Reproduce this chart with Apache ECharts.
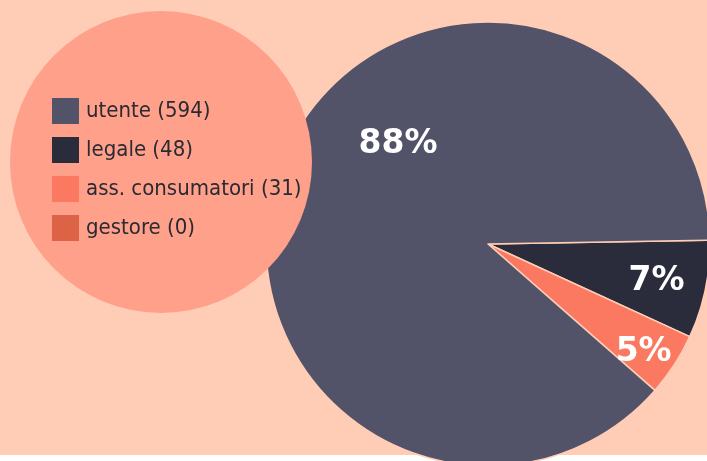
<!DOCTYPE html>
<html>
<head>
<meta charset="utf-8">
<script src="https://cdn.jsdelivr.net/npm/echarts@6/dist/echarts.min.js"></script>
<style>
html,body{margin:0;padding:0;background:#ffffff;}
#chart{width:707px;height:461px;}
</style>
</head>
<body>
<div id="chart"></div>
<script>
// Data
var categories = ['utente', 'legale', 'ass. consumatori', 'gestore'];
var values = [594, 48, 31, 0];
var colors = ['#525369', '#2b2c3b', '#fa7960', '#dc6346'];

var chart = echarts.init(document.getElementById('chart'), null, {renderer: 'canvas'});

// Pie drawn clockwise: gestore(0), legale, ass. consumatori, utente
var drawOrder = [3, 1, 2, 0];
var labelOffsets = {0: [17, -60], 1: [57, 14], 2: [60, 46], 3: [0, 0]};
var pieData = drawOrder.map(function (i) {
  return {
    name: categories[i],
    value: values[i],
    itemStyle: {color: colors[i]},
    label: {offset: labelOffsets[i], show: values[i] > 0}
  };
});

var option = {
  backgroundColor: '#ffffff',
  animation: false,
  graphic: [
    {type: 'rect', z: -10, silent: true, shape: {x: 0, y: 0, width: 707, height: 455}, style: {fill: '#ffcdb6'}},
    {type: 'circle', z: 5, silent: true, shape: {cx: 161, cy: 162, r: 151}, style: {fill: '#ffa08b'}}
  ],
  legend: {
    orient: 'vertical',
    left: 52,
    top: 98,
    z: 10,
    padding: 0,
    icon: 'rect',
    itemWidth: 27,
    itemHeight: 26,
    itemGap: 13,
    selectedMode: false,
    data: categories,
    itemStyle: {borderWidth: 0},
    formatter: function (name) {
      var i = categories.indexOf(name);
      return name + ' (' + values[i] + ')';
    },
    textStyle: {
      fontFamily: "'Liberation Sans Narrow', 'DejaVu Sans Condensed', 'Arial Narrow', sans-serif",
      fontSize: 22,
      color: '#2a2a33',
      padding: [0, 0, 0, 2]
    }
  },
  series: [{
    type: 'pie',
    z: 2,
    center: [488, 244],
    radius: 222,
    startAngle: 1,
    clockwise: true,
    avoidLabelOverlap: false,
    stillShowZeroSum: true,
    itemStyle: {borderColor: '#ffcdb6', borderWidth: 1.5},
    label: {
      show: true,
      position: 'inside',
      color: '#ffffff',
      fontFamily: "'DejaVu Sans', sans-serif",
      fontWeight: 'bold',
      fontSize: 33,
      formatter: function (p) { return Math.round(p.percent) + '%'; }
    },
    labelLine: {show: false},
    emphasis: {disabled: true},
    data: pieData
  }]
};
chart.setOption(option);
</script>
</body>
</html>
